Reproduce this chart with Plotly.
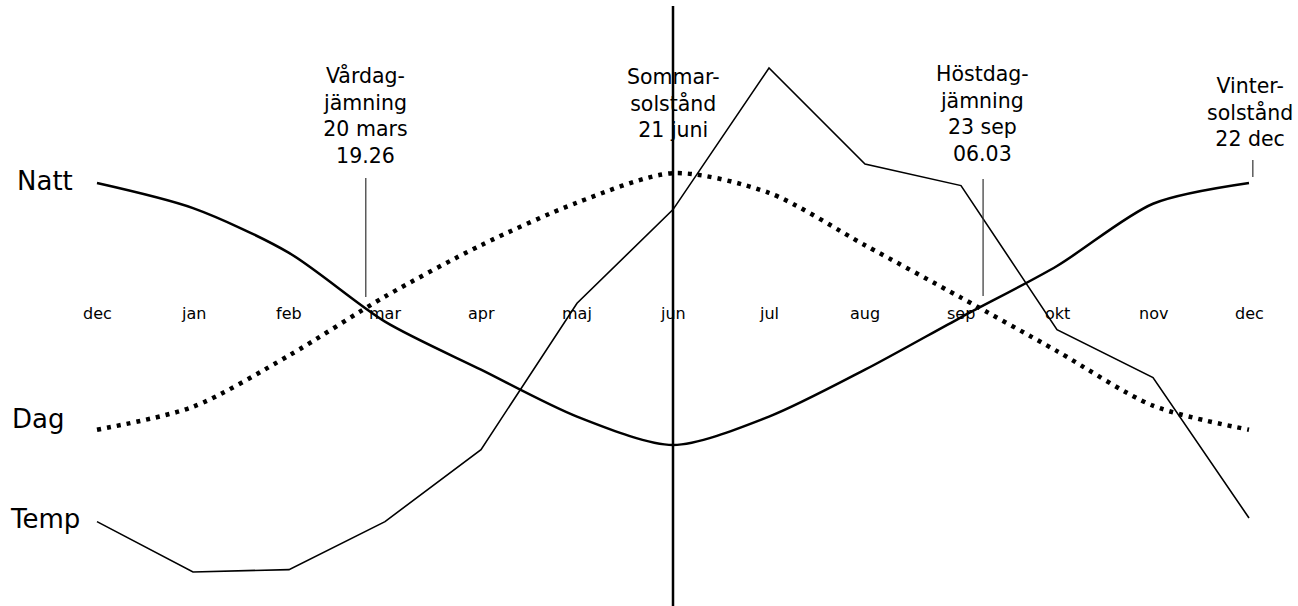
import plotly.graph_objects as go

# month positions: index 0..12 (dec .. dec)
months = ["dec", "jan", "feb", "mar", "apr", "maj", "jun", "jul", "aug", "sep", "okt", "nov", "dec"]
x_idx = list(range(len(months)))

# hours of darkness / daylight (approx.)
natt_hours = [18.0, 16.85, 14.8, 11.65, 9.45, 7.3, 6.0, 7.3, 9.45, 11.85, 14.2, 17.05, 18.0]
dag_hours = [6.7, 7.75, 10.1, 12.8, 15.15, 17.1, 18.45, 17.55, 15.15, 12.75, 10.3, 7.8, 6.7]

# monthly temperature, deg C (approx.)
temp_c = [-0.9, -3.0, -2.9, -0.9, 2.1, 8.2, 12.1, 18.0, 14.0, 13.1, 7.1, 5.1, -0.75]

# equinox / solstice markers (month index position, label)
events_x = [2.8, 6.0, 9.23, 12.04]
events_text = [
    "Vårdag-<br>jämning<br>20 mars<br>19.26",
    "Sommar-<br>solstånd<br>21 juni",
    "Höstdag-<br>jämning<br>23 sep<br>06.03",
    "Vinter-<br>solstånd<br>22 dec",
]

W, H = 1298, 606
FONT = "DejaVu Sans, Verdana, sans-serif"


def py(p):
    # pixel row -> paper fraction
    return 1 - p / H


def px(p):
    return p / W


fig = go.Figure()

fig.add_trace(go.Scatter(
    x=x_idx, y=natt_hours, mode="lines", name="Natt",
    line=dict(color="black", width=2.5, shape="spline", smoothing=0.8),
))
fig.add_trace(go.Scatter(
    x=x_idx, y=dag_hours, mode="lines", name="Dag",
    line=dict(color="black", width=4.5, dash="4px,6px", shape="spline", smoothing=0.8),
))
fig.add_trace(go.Scatter(
    x=x_idx, y=temp_c, mode="lines", name="Temp", yaxis="y2",
    line=dict(color="black", width=1.6),
))

annotations = []
for i, m in enumerate(months):
    annotations.append(dict(
        x=i, xref="x", y=py(313), yref="paper", text=m, showarrow=False,
        font=dict(size=16, color="black", family=FONT),
        xanchor="center", yanchor="middle",
    ))

# event labels
label_pos = [(366, 116), (673, 103), (982, 114), (1250, 112)]
for (lx, ly), t in zip(label_pos, events_text):
    annotations.append(dict(
        x=px(lx), xref="paper", y=py(ly), yref="paper", text=t, showarrow=False,
        font=dict(size=20.5, color="black", family=FONT),
        xanchor="center", yanchor="middle", align="center",
    ))

for t, lx, ly in [("Natt", 15, 181), ("Dag", 10, 419), ("Temp", 8, 519)]:
    annotations.append(dict(
        x=px(lx), xref="paper", y=py(ly), yref="paper", text=t, showarrow=False,
        font=dict(size=26, color="black", family=FONT),
        xanchor="left", yanchor="middle",
    ))

shapes = [
    # summer solstice line, full height
    dict(type="line", xref="x", yref="paper", x0=events_x[1], x1=events_x[1],
         y0=py(6), y1=0, line=dict(color="black", width=2.5)),
    # equinox ticks
    dict(type="line", xref="x", yref="paper", x0=events_x[0], x1=events_x[0],
         y0=py(178), y1=py(297), line=dict(color="#333333", width=1.2)),
    dict(type="line", xref="x", yref="paper", x0=events_x[2], x1=events_x[2],
         y0=py(179), y1=py(296), line=dict(color="#333333", width=1.2)),
    # winter solstice tick
    dict(type="line", xref="x", yref="paper", x0=events_x[3], x1=events_x[3],
         y0=py(160), y1=py(177), line=dict(color="#333333", width=1.2)),
]

fig.update_layout(
    width=W, height=H,
    margin=dict(l=0, r=0, t=0, b=0),
    paper_bgcolor="white", plot_bgcolor="white",
    showlegend=False,
    xaxis=dict(range=[-1.0104, 12.5104], visible=False),
    yaxis=dict(range=[-1.374, 26.382], visible=False),
    yaxis2=dict(range=[-4.4167, 20.833], visible=False, overlaying="y"),
    annotations=annotations,
    shapes=shapes,
)

# drop the default 8px body margin so the figure sits at the window origin
fig.write_html(
    "out.html",
    config={"displayModeBar": False},
    post_script="document.body.style.margin='0';",
)
